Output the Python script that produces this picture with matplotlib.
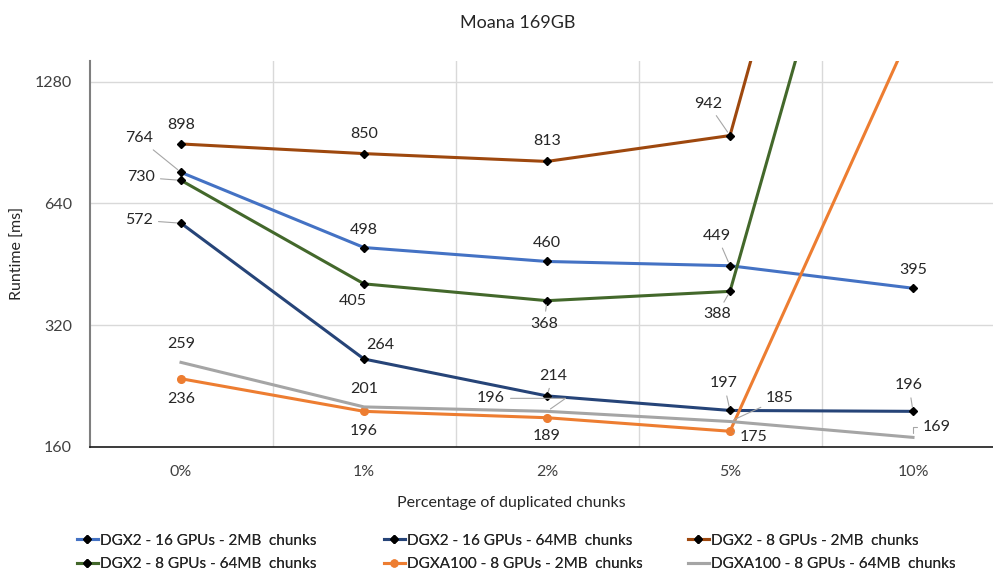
import matplotlib
matplotlib.use("Agg")
import matplotlib.pyplot as plt
from matplotlib.ticker import FixedLocator, NullLocator

plt.rcParams['font.family'] = ['Lato', 'DejaVu Sans']

# ---- data -------------------------------------------------------------
categories = ["0%", "1%", "2%", "5%", "10%"]

dgx2_16_2mb = [764, 498, 460, 449, 395]
dgx2_16_64mb = [572, 264, 214, 197, 196]
dgx2_8_2mb = [898, 850, 813, 942, 40000]
dgx2_8_64mb = [730, 405, 368, 388, 15200]
dgxa100_8_2mb = [236, 196, 189, 175, 1750]
dgxa100_8_64mb = [259, 201, 196, 185, 169]

y_ticks = [160, 320, 640, 1280]

series_names = [
    "DGX2 - 16 GPUs - 2MB  chunks",
    "DGX2 - 16 GPUs - 64MB  chunks",
    "DGX2 - 8 GPUs - 2MB  chunks",
    "DGX2 - 8 GPUs - 64MB  chunks",
    "DGXA100 - 8 GPUs - 2MB  chunks",
    "DGXA100 - 8 GPUs - 64MB  chunks",
]
series_values = [dgx2_16_2mb, dgx2_16_64mb, dgx2_8_2mb,
                 dgx2_8_64mb, dgxa100_8_2mb, dgxa100_8_64mb]

# ---- styling ----------------------------------------------------------
colors = ["#4472C4", "#264478", "#9E480E", "#43682B", "#ED7D31", "#A5A5A5"]
marker_style = [
    dict(marker="D", ms=4, mfc="black", mec="black"),
    dict(marker="D", ms=4, mfc="black", mec="black"),
    dict(marker="D", ms=4, mfc="black", mec="black"),
    dict(marker="D", ms=4, mfc="black", mec="black"),
    dict(marker="o", ms=5.5, mfc="#ED7D31", mec="#ED7D31"),
    dict(marker=None),
]

# label offsets in pixels (dx, dy) and leader-line connection style;
# None means the label is not shown (value is above the visible range)
STRAIGHT = "arc3"
label_layout = [
    [(-42, 34, STRAIGHT), (0, 18, None), (0, 18, None), (-13, 30, STRAIGHT), (0, 18, None)],
    [(-42, 3, STRAIGHT), (16, 14, None), (6, 20, STRAIGHT), (-6, 27, STRAIGHT), (-4, 26, STRAIGHT)],
    [(0, 19, None), (0, 20, None), (0, 20, None), (-22, 32, STRAIGHT), None],
    [(-40, 3, STRAIGHT), (-11, -17, None), (-3, -23, STRAIGHT), (-13, -23, STRAIGHT), None],
    [(0, -20, None), (0, -20, None), (0, -18, None), (24, -6, STRAIGHT), None],
    [(0, 18, None), (0, 18, None), (-56, 13, "angle,angleA=0,angleB=35,rad=0"),
     (50, 23, STRAIGHT), (24, 10, "angle,angleA=0,angleB=90,rad=0")],
]

W, H, DPI = 993, 577, 100
fig = plt.figure(figsize=(W / DPI, H / DPI), dpi=DPI)
ax_left, ax_right, ax_bottom, ax_top = 89.5, 1004.5, 447, 61
ax = fig.add_axes([ax_left / W, 1 - ax_bottom / H,
                   (ax_right - ax_left) / W, (ax_bottom - ax_top) / H])

x = list(range(len(categories)))
handles = []
for vals, name, c, ms in zip(series_values, series_names, colors, marker_style):
    ln, = ax.plot(x, vals, color=c, lw=2.2, label=name, zorder=3,
                  solid_joinstyle="round", **ms)
    handles.append(ln)

ax.set_yscale("log", base=2)
ax.set_ylim(160, 1440)
ax.set_xlim(-0.5, len(categories) - 0.5)
ax.yaxis.set_major_locator(FixedLocator(y_ticks))
ax.yaxis.set_minor_locator(NullLocator())
ax.set_yticklabels([str(v) for v in y_ticks])
ax.set_xticks(x)
ax.set_xticklabels(categories)
ax.set_xticks([i + 0.5 for i in x[:-1]], minor=True)

ax.grid(True, which="major", axis="y", color="#D9D9D9", lw=1, zorder=0)
ax.grid(True, which="minor", axis="x", color="#D9D9D9", lw=1, zorder=0)
ax.tick_params(axis="both", which="both", length=0, labelsize=11.5,
               labelcolor="#404040")
ax.tick_params(axis="y", pad=12.5)
ax.tick_params(axis="x", pad=13)

for side in ("top", "right"):
    ax.spines[side].set_visible(False)
ax.spines["left"].set_color("#7F7F7F")
ax.spines["left"].set_linewidth(1.5)
ax.spines["bottom"].set_color("#1A1A1A")
ax.spines["bottom"].set_linewidth(1.2)

# data labels
for vals, layout in zip(series_values, label_layout):
    for xi, v, spec in zip(x, vals, layout):
        if spec is None:
            continue
        dx, dy, conn = spec
        arrow = None
        if conn is not None:
            arrow = dict(arrowstyle="-", color="#A6A6A6", lw=0.8,
                         shrinkA=2, shrinkB=3, connectionstyle=conn)
        ax.annotate(str(v), xy=(xi, v), xytext=(dx, dy),
                    textcoords="offset pixels", ha="center", va="center",
                    fontsize=11.5, color="#262626", arrowprops=arrow,
                    zorder=5, annotation_clip=False)

ax.set_xlabel("Percentage of duplicated chunks", fontsize=11.5, color="#262626")
ax.xaxis.set_label_coords((511 - ax_left) / (ax_right - ax_left),
                          (ax_bottom - 503) / (ax_bottom - ax_top))
ax.xaxis.label.set_va("center")
ax.set_ylabel("Runtime [ms]", fontsize=11.5, color="#262626")
ax.yaxis.set_label_coords((18 - ax_left) / (ax_right - ax_left),
                          (ax_bottom - 253) / (ax_bottom - ax_top))
ax.yaxis.label.set_va("center")

fig.text(518 / W, 1 - 23 / H, "Moana 169GB", ha="center", va="center",
         fontsize=13, color="#262626")

# legend: three columns of two entries, placed side by side
columns = [(0, 3), (1, 4), (2, 5)]
col_x = [77, 384, 688]
for idxs, cx in zip(columns, col_x):
    leg = fig.legend([handles[i] for i in idxs], [series_names[i] for i in idxs],
                     ncol=1, loc="center left",
                     bbox_to_anchor=(cx / W, 1 - 552.5 / H),
                     frameon=False, fontsize=11, handlelength=1.35,
                     handletextpad=0.15, labelspacing=0.62,
                     borderpad=0, borderaxespad=0, markerscale=0.9)
    for t in leg.get_texts():
        t.set_color("#262626")
    fig.add_artist(leg)

fig.savefig("out.png", dpi=DPI)
